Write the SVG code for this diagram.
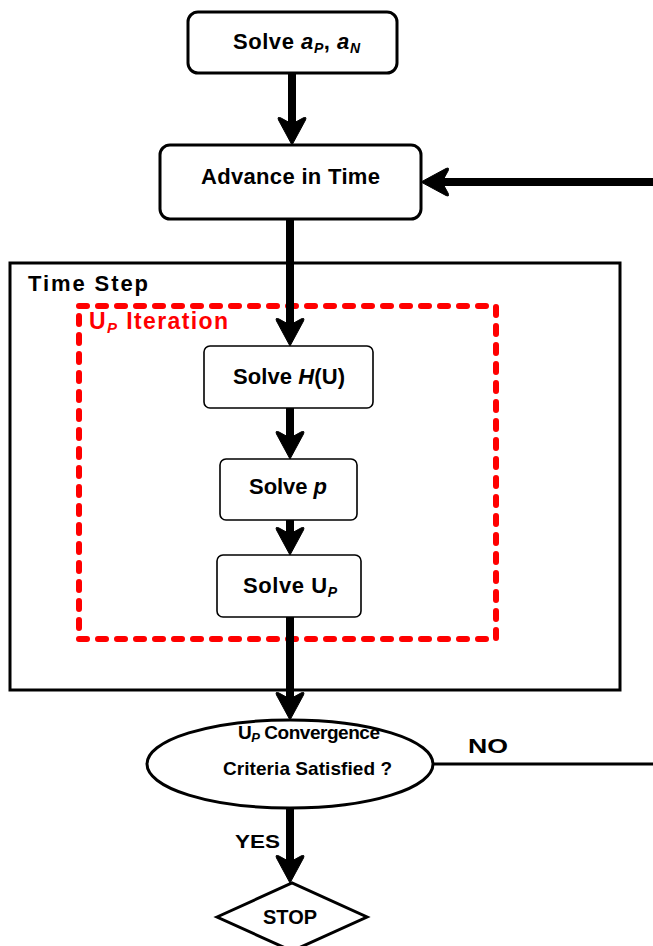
<svg xmlns="http://www.w3.org/2000/svg" width="653" height="946" viewBox="0 0 653 946">
<defs>
<style>
.t{font-family:"Liberation Sans",Arial,sans-serif;font-weight:bold;fill:#000}
.box{fill:#fff;stroke:#000;stroke-width:3}
.ibox{fill:#fff;stroke:#000;stroke-width:1.6}
.conn{fill:none;stroke:#000;stroke-width:8}
.thin{fill:none;stroke:#000;stroke-width:3}
</style>
<marker id="ah" viewBox="0 0 28 30" refX="14" refY="15" markerWidth="28" markerHeight="30" markerUnits="userSpaceOnUse" orient="auto">
<path d="M28,15 L3,1.5 Q-1,0 1,4 L7,15 L1,26 Q-1,30 3,28.5 Z" fill="#000" stroke="#000" stroke-width="1" stroke-linejoin="round"/>
</marker>
</defs>
<rect width="653" height="946" fill="#fff"/>

<g id="time-step">
<rect x="10" y="263" width="610" height="427" fill="none" stroke="#000" stroke-width="3"/>
<text class="t" x="28" y="291" font-size="22" textLength="120">Time Step</text>
</g>
<g id="up-iteration">
<rect x="79" y="306" width="417" height="333" fill="none" stroke="#f00" stroke-width="6" stroke-linecap="round" stroke-dasharray="8 11"/>
<text class="t" x="89" y="329" font-size="23" style="fill:#f00" textLength="139">U<tspan font-style="italic" font-size="15" dy="4">P</tspan><tspan dy="-4"> Iteration</tspan></text>
</g>

<g id="connectors">
<line class="conn" x1="292" y1="73" x2="292" y2="131" marker-end="url(#ah)"/>
<line class="conn" x1="290" y1="219" x2="290" y2="332" marker-end="url(#ah)"/>
<line class="conn" x1="290" y1="408" x2="290" y2="445" marker-end="url(#ah)"/>
<line class="conn" x1="290" y1="520" x2="290" y2="541" marker-end="url(#ah)"/>
<line class="conn" x1="290" y1="617" x2="290" y2="706" marker-end="url(#ah)"/>
<line class="conn" x1="290" y1="808" x2="290" y2="869" marker-end="url(#ah)"/>
<line class="conn" x1="660" y1="182" x2="435" y2="182" marker-end="url(#ah)"/>
<line class="thin" x1="433" y1="764" x2="660" y2="764"/>
<text class="t" x="468" y="753" font-size="21" textLength="40" lengthAdjust="spacingAndGlyphs">NO</text>
<text class="t" x="235" y="848" font-size="19" textLength="45" lengthAdjust="spacingAndGlyphs">YES</text>
</g>

<g id="solve-ap-an">
<rect class="box" x="188" y="12" width="209" height="61" rx="10"/>
<text class="t" x="233" y="49" font-size="22" textLength="127">Solve <tspan font-style="italic">a</tspan><tspan font-style="italic" font-size="14" dy="4">P</tspan><tspan dy="-4">, </tspan><tspan font-style="italic">a</tspan><tspan font-style="italic" font-size="14" dy="4">N</tspan></text>
</g>
<g id="advance-in-time">
<rect class="box" x="160" y="145" width="261" height="74" rx="10"/>
<text class="t" x="201" y="184" font-size="22" textLength="179">Advance in Time</text>
</g>
<g id="solve-h">
<rect class="ibox" x="204" y="346" width="169" height="62" rx="6"/>
<text class="t" x="233" y="384" font-size="22" textLength="112">Solve <tspan font-style="italic">H</tspan>(U)</text>
</g>
<g id="solve-p">
<rect class="ibox" x="220" y="459" width="137" height="61" rx="6"/>
<text class="t" x="249" y="494" font-size="22" textLength="78">Solve <tspan font-style="italic">p</tspan></text>
</g>
<g id="solve-up">
<rect class="ibox" x="217" y="555" width="144" height="62" rx="6"/>
<text class="t" x="243" y="593" font-size="22" textLength="94">Solve U<tspan font-style="italic" font-size="14" dy="4">P</tspan></text>
</g>
<g id="convergence">
<ellipse cx="290" cy="764" rx="143" ry="44" fill="#fff" stroke="#000" stroke-width="3"/>
<text class="t" x="238" y="739" font-size="19" textLength="142">U<tspan font-style="italic" font-size="13" dy="3">P</tspan><tspan dy="-3"> Convergence</tspan></text>
<text class="t" x="223" y="775" font-size="19" textLength="169">Criteria Satisfied ?</text>
</g>
<g id="stop">
<polygon points="217,917 292,883 367,917 292,951" fill="#fff" stroke="#000" stroke-width="3"/>
<text class="t" x="263" y="924" font-size="21" textLength="54" lengthAdjust="spacingAndGlyphs">STOP</text>
</g>
</svg>
